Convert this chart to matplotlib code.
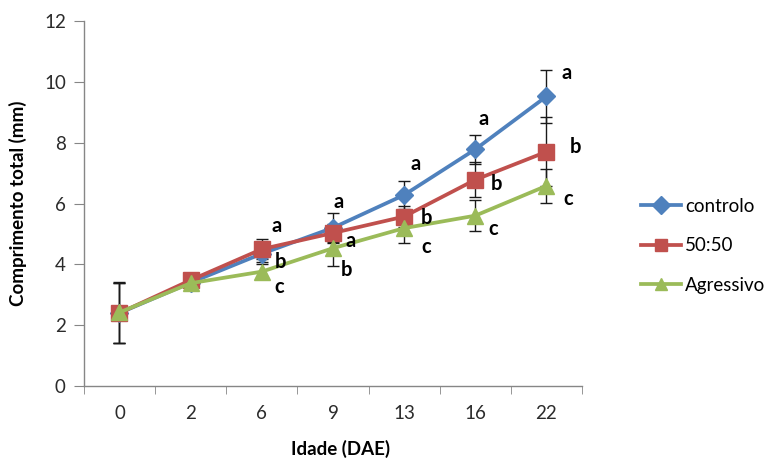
import matplotlib
matplotlib.use("Agg")
import matplotlib.pyplot as plt
import numpy as np

plt.rcParams['font.family'] = ['Lato', 'DejaVu Sans']

categories = ['0', '2', '6', '9', '13', '16', '22']
series_names = ['controlo', '50:50', 'Agressivo']

controlo = [2.4, 3.4, 4.35, 5.2, 6.28, 7.78, 9.52]
controlo_err = [1.0, 0.0, 0.28, 0.49, 0.47, 0.48, 0.86]
cinquenta = [2.4, 3.48, 4.5, 5.03, 5.57, 6.78, 7.7]
cinquenta_err = [1.0, 0.0, 0.32, 0.3, 0.35, 0.58, 1.14]
agressivo = [2.42, 3.38, 3.76, 4.53, 5.19, 5.6, 6.58]
agressivo_err = [1.0, 0.0, 0.25, 0.58, 0.49, 0.52, 0.55]

letters_controlo = ['', '', 'a', 'a', 'a', 'a', 'a']
letters_cinquenta = ['', '', 'b', 'a', 'b', 'b', 'b']
letters_agressivo = ['', '', 'c', 'b', 'c', 'c', 'c']

yticks = [0, 2, 4, 6, 8, 10, 12]

# layout (pixel offsets of letters relative to their points)
off_controlo = [(0, 0), (0, 0), (15, 28), (6, 26), (12, 31), (8, 30), (20, 23)]
off_cinquenta = [(0, 0), (0, 0), (19, -13), (18, -8), (22, -1), (21, -4), (29, 5)]
off_agressivo = [(0, 0), (0, 0), (17, -15), (14, -22), (22, -19), (18, -13), (22, -13)]

colors = ['#4F81BD', '#C0504D', '#9BBB59']
markers = ['D', 's', '^']
msizes = [9, 11, 11]

fig = plt.figure(figsize=(7.77, 4.62), dpi=100)
ax = fig.add_axes([0.108, 0.1645, 0.641, 0.79])

x = np.arange(len(categories))
data = [controlo, cinquenta, agressivo]
errs = [controlo_err, cinquenta_err, agressivo_err]
letters = [letters_controlo, letters_cinquenta, letters_agressivo]
offs = [off_controlo, off_cinquenta, off_agressivo]

for vals, err in zip(data, errs):
    e = np.array(err)
    mask = e > 0
    ax.errorbar(x[mask], np.array(vals)[mask], yerr=e[mask], fmt='none',
                ecolor='#1a1a1a', elinewidth=1, capsize=4, capthick=1, zorder=2)

for i, (vals, name) in enumerate(zip(data, series_names)):
    ax.plot(x, vals, color=colors[i], lw=2.7, marker=markers[i], ms=msizes[i],
            markeredgecolor=colors[i], label=name, zorder=3 + i)

for vals, labs, off in zip(data, letters, offs):
    for xi, v, lab, o in zip(x, vals, labs, off):
        if lab:
            ax.annotate(lab, xy=(xi, v), xytext=o, textcoords='offset pixels',
                        ha='center', va='center', fontsize=14.5, fontweight='bold',
                        color='black', zorder=10)

ax.set_xlim(-0.5, len(categories) - 0.5)
ax.set_ylim(0, 12)
ax.set_yticks(yticks)
ax.set_xticks(x)
ax.set_xticklabels(categories)
ax.set_xticks(np.arange(-0.5, len(categories)), minor=True)
ax.tick_params(axis='x', which='major', length=0, pad=14, labelsize=13.5, labelcolor='#2b2b2b')
ax.tick_params(axis='x', which='minor', length=6, color='#868686', direction='out')
ax.tick_params(axis='y', length=7, color='#868686', pad=6, labelsize=13.5, labelcolor='#2b2b2b')

for s in ['top', 'right']:
    ax.spines[s].set_visible(False)
for s in ['left', 'bottom']:
    ax.spines[s].set_color('#868686')
    ax.spines[s].set_linewidth(1)

ax.set_xlabel('Idade (DAE)', fontsize=13.5, fontweight='bold')
ax.xaxis.set_label_coords(0.515, -0.148)
ax.set_ylabel('Comprimento total (mm)', fontsize=13.5, fontweight='bold', labelpad=12)

leg = fig.legend(loc='center left', bbox_to_anchor=(0.813, 0.468), frameon=False,
                 fontsize=13.5, handlelength=2.15, handletextpad=0.2, labelspacing=1.2,
                 borderpad=0)
for h in leg.legend_handles:
    h.set_markersize(9)

fig.savefig('out.png', dpi=100)
